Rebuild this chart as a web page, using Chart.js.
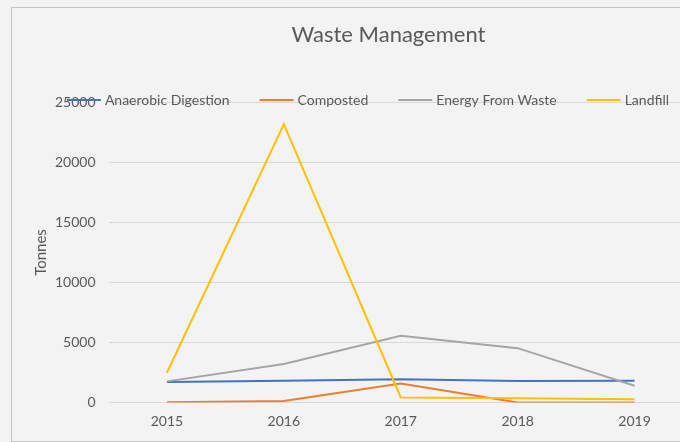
<!DOCTYPE html>
<html>
<head>
<meta charset="utf-8">
<script src="https://cdn.jsdelivr.net/npm/chart.js@4.4.0/dist/chart.umd.min.js"></script>
<style>
  html, body { margin: 0; padding: 0; width: 680px; height: 442px; overflow: hidden; background: #f3f3f3; }
  #frame { position: absolute; left: 11px; top: 7px; width: 753px; height: 433px; border: 1px solid #c4c4c4; }
  canvas { display: block; }
</style>
</head>
<body>
<div id="frame"><canvas id="myChart" width="753" height="433"></canvas></div>
<script>
// data
const years = ["2015", "2016", "2017", "2018", "2019"];
const anaerobic = [1700, 1810, 1930, 1790, 1810];
const composted = [20, 130, 1590, 0, 0];
const energyFromWaste = [1760, 3210, 5560, 4530, 1390];
const landfill = [2480, 23200, 420, 360, 280];
const yTicks = [0, 5000, 10000, 15000, 20000, 25000];

const FONT = "Lato";
const TEXT = "#595959";

// legend sits on top of the plot, like the Excel original
const topLegend = {
  id: "topLegend",
  afterDraw(chart) {
    const ctx = chart.ctx;
    const y = 92;
    const lineLen = 34, gapText = 4, gapItem = 30;
    ctx.save();
    ctx.font = "14px " + FONT;
    ctx.textBaseline = "middle";
    const items = chart.data.datasets.slice();
    let total = 0;
    items.forEach((ds, i) => {
      total += lineLen + gapText + ctx.measureText(ds.label).width;
      if (i < items.length - 1) total += gapItem;
    });
    let x = 356 - total / 2;
    items.forEach(ds => {
      ctx.strokeStyle = ds.borderColor;
      ctx.lineWidth = 2;
      ctx.beginPath();
      ctx.moveTo(x, y);
      ctx.lineTo(x + lineLen, y);
      ctx.stroke();
      ctx.fillStyle = TEXT;
      ctx.fillText(ds.label, x + lineLen + gapText, y);
      x += lineLen + gapText + ctx.measureText(ds.label).width + gapItem;
    });
    ctx.restore();
  }
};

const ctx = document.getElementById("myChart").getContext("2d");
new Chart(ctx, {
  type: "line",
  data: {
    labels: years,
    datasets: [
      { label: "Anaerobic Digestion", data: anaerobic, borderColor: "#4472c4", order: 4 },
      { label: "Composted", data: composted, borderColor: "#ed7d31", order: 3 },
      { label: "Energy From Waste", data: energyFromWaste, borderColor: "#a5a5a5", order: 2 },
      { label: "Landfill", data: landfill, borderColor: "#ffc000", order: 1 }
    ]
  },
  options: {
    responsive: false,
    animation: false,
    devicePixelRatio: 1,
    layout: { padding: 0 },
    elements: {
      line: { borderWidth: 2, tension: 0, fill: false },
      point: { radius: 0, hoverRadius: 0 }
    },
    plugins: {
      legend: { display: false },
      tooltip: { enabled: false },
      title: {
        display: true,
        text: "Waste Management",
        color: TEXT,
        font: { family: FONT, size: 22, weight: "normal" },
        padding: { top: 13.8, bottom: 54.3 }
      }
    },
    scales: {
      x: {
        offset: true,
        grid: { display: false, drawTicks: false },
        border: { display: false },
        ticks: { color: TEXT, font: { family: FONT, size: 14 }, padding: 11 },
        afterFit(scale) { scale.height = 38.5; }
      },
      y: {
        min: 0,
        max: 25000,
        afterBuildTicks(scale) { scale.ticks = yTicks.map(v => ({ value: v })); },
        grid: { color: "#d9d9d9", lineWidth: 1, drawTicks: false },
        border: { display: false },
        ticks: { color: TEXT, font: { family: FONT, size: 14 }, padding: 13, callback: v => String(v) },
        title: {
          display: true,
          text: "Tonnes",
          color: TEXT,
          font: { family: FONT, size: 15 },
          padding: { top: 20, bottom: 0 }
        },
        afterFit(scale) { scale.width = 96.5; }
      },
      // empty right-hand strip so the plot ends where the (cropped) original does
      yRight: {
        position: "right",
        grid: { display: false, drawTicks: false },
        border: { display: false },
        ticks: { display: false },
        afterFit(scale) { scale.width = 72; }
      }
    }
  },
  plugins: [topLegend]
});
</script>
</body>
</html>
